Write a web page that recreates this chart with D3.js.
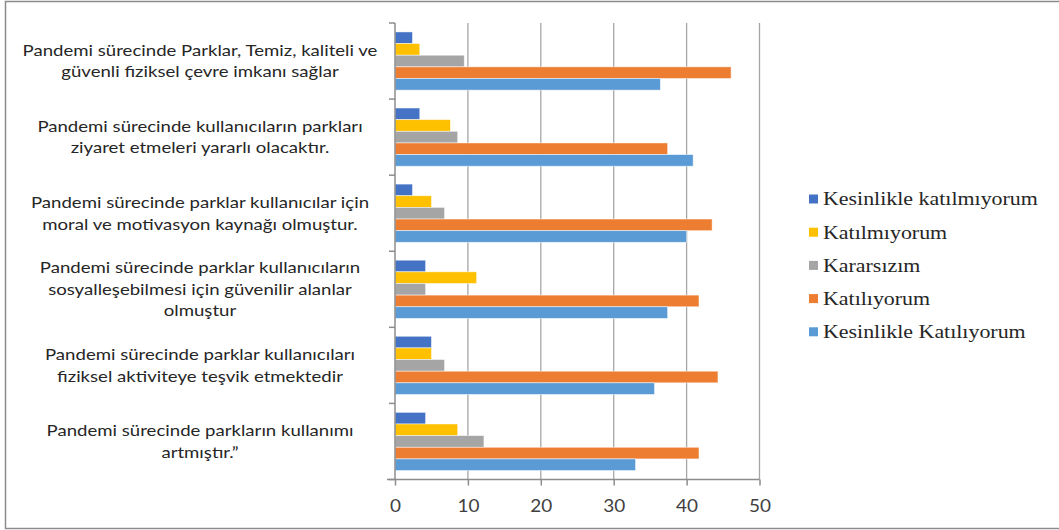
<!DOCTYPE html>
<html>
<head>
<meta charset="utf-8">
<script src="https://cdn.jsdelivr.net/npm/d3@7"></script>
<style>
  body { margin: 0; background: #fff; }
</style>
</head>
<body>
<div id="visContainer"></div>
<script>
// statements, top to bottom as shown
const categories = [
    ["Pandemi sürecinde Parklar, Temiz, kaliteli ve", "güvenli fiziksel çevre imkanı sağlar"],
    ["Pandemi sürecinde kullanıcıların parkları", "ziyaret etmeleri yararlı olacaktır."],
    ["Pandemi sürecinde parklar kullanıcılar için", "moral ve motivasyon kaynağı olmuştur."],
    ["Pandemi sürecinde parklar kullanıcıların", "sosyalleşebilmesi için güvenilir alanlar", "olmuştur"],
    ["Pandemi sürecinde parklar kullanıcıları", "fiziksel aktiviteye teşvik etmektedir"],
    ["Pandemi sürecinde parkların kullanımı", "artmıştır.\u201D"]
];

const seriesNames = ["Kesinlikle katılmıyorum", "Katılmıyorum", "Kararsızım", "Katılıyorum", "Kesinlikle Katılıyorum"];
const seriesColors = ["#4472C4", "#FFC000", "#A5A5A5", "#ED7D31", "#5B9BD5"];

// one array per series, same order as categories
const kesinlikleKatilmiyorum = [2.4, 3.4, 2.4, 4.2, 5.0, 4.2];
const katilmiyorum           = [3.4, 7.6, 5.0, 11.2, 5.0, 8.6];
const kararsizim             = [9.5, 8.6, 6.8, 4.2, 6.8, 12.2];
const katiliyorum            = [46.1, 37.4, 43.5, 41.7, 44.3, 41.7];
const kesinlikleKatiliyorum  = [36.4, 40.9, 40.0, 37.4, 35.6, 33.0];

const xTicks = [0, 10, 20, 30, 40, 50];

// stretch text horizontally so that the widest node reaches the target width
function stretchTo(sel, target) {
    let w = 0;
    sel.each(function () { w = Math.max(w, this.getComputedTextLength()); });
    return w > 0 ? target / w : 1;
}

function renderVisualisation() {
    const width = 1059;
    const height = 530;
    const series = [kesinlikleKatilmiyorum, katilmiyorum, kararsizim, katiliyorum, kesinlikleKatiliyorum];
    const top = 23, bottom = 479.5;

    const svg = d3.select('#visContainer').append("svg")
        .attr("width", width)
        .attr("height", height)
        .style("display", "block");

    // outer chart border
    svg.append("rect")
        .attr("x", 5.5).attr("y", 1.5)
        .attr("width", width + 10).attr("height", 527)
        .attr("fill", "none")
        .attr("stroke", "#8c8c8c")
        .attr("stroke-width", 1.5);

    const x = d3.scaleLinear().domain([0, 50]).range([395, 759.5]);
    const yCat = d3.scaleBand().domain(d3.range(categories.length)).range([top, bottom]);
    const y = d3.scaleBand().domain(d3.range(categories.length)).range([top, bottom])
        .paddingInner(0.235).paddingOuter(0.1175);
    const yInner = d3.scaleBand().domain(d3.range(seriesNames.length)).range([0, y.bandwidth()]);

    // gridlines
    svg.append("g")
        .selectAll("line")
        .data(xTicks.slice(1))
        .join("line")
        .attr("x1", d => x(d)).attr("x2", d => x(d))
        .attr("y1", top).attr("y2", bottom)
        .attr("stroke", "#a6a6a6")
        .attr("stroke-width", 1.3);

    // bars
    const group = svg.append("g")
        .selectAll("g")
        .data(categories)
        .join("g")
        .attr("transform", (d, i) => `translate(0,${y(i)})`);

    group.selectAll("rect")
        .data((d, i) => series.map((s, j) => ({ v: s[i], j })))
        .join("rect")
        .attr("x", x(0))
        .attr("y", d => yInner(d.j))
        .attr("width", d => x(d.v) - x(0))
        .attr("height", yInner.bandwidth())
        .attr("fill", d => seriesColors[d.j])
        .attr("stroke", "#ffffff")
        .attr("stroke-opacity", 0.6)
        .attr("stroke-width", 0.8);

    // vertical axis line with category ticks
    const axisColor = "#8c8c8c";
    svg.append("line")
        .attr("x1", x(0)).attr("x2", x(0))
        .attr("y1", top).attr("y2", bottom)
        .attr("stroke", axisColor).attr("stroke-width", 1.5);
    svg.append("g")
        .selectAll("line")
        .data(d3.range(categories.length + 1))
        .join("line")
        .attr("x1", x(0) - 6).attr("x2", x(0))
        .attr("y1", d => d < categories.length ? yCat(d) : bottom)
        .attr("y2", d => d < categories.length ? yCat(d) : bottom)
        .attr("stroke", axisColor).attr("stroke-width", 1.5);

    // bottom axis
    const xAxis = svg.append("g")
        .attr("transform", `translate(0,${bottom})`)
        .call(d3.axisBottom(x).tickValues(xTicks).tickSize(6).tickSizeOuter(0).tickPadding(14));
    xAxis.select(".domain").attr("stroke", axisColor).attr("stroke-width", 1.5)
        .attr("d", `M${x(0) - 8},0H${x(50)}`);
    xAxis.selectAll(".tick line").attr("stroke", axisColor).attr("stroke-width", 1.5);
    const tickText = xAxis.selectAll("text")
        .style("font-family", "Lato, 'Open Sans', sans-serif")
        .style("font-size", "18px")
        .attr("fill", "#404040");
    const tickK = stretchTo(tickText.filter(d => d === 10), 22);
    tickText.attr("transform", `scale(${tickK},1)`).attr("x", 0);

    // category labels
    const label = svg.append("g")
        .style("font-family", "Lato, 'Open Sans', sans-serif")
        .style("font-size", "15.5px")
        .attr("fill", "#262626")
        .attr("text-anchor", "middle")
        .selectAll("text")
        .data(categories)
        .join("text");

    label.selectAll("tspan")
        .data(d => d)
        .join("tspan")
        .attr("x", 0)
        .attr("dy", (d, i) => i === 0 ? 0 : 21.7)
        .text(d => d);

    const labelK = stretchTo(label.selectAll("tspan"), 355);
    label.attr("transform", (d, i) =>
        `translate(200,${yCat(i) + yCat.bandwidth() / 2 - (d.length - 1) * 10.85 + 5.5}) scale(${labelK},1)`);

    // legend
    const legend = svg.append("g")
        .selectAll("g")
        .data(seriesNames)
        .join("g")
        .attr("transform", (d, i) => `translate(809,${199 + i * 33.2})`);

    legend.append("rect")
        .attr("x", 0).attr("y", -4.5)
        .attr("width", 9).attr("height", 9)
        .attr("fill", (d, i) => seriesColors[i]);

    const legendText = legend.append("text")
        .attr("dy", "0.35em")
        .style("font-family", "'Liberation Serif', 'DejaVu Serif', serif")
        .style("font-size", "18px")
        .attr("fill", "#262626")
        .text(d => d);
    const legendK = stretchTo(legendText.filter((d, i) => i === 0), 215);
    legendText.attr("transform", `translate(14,0) scale(${legendK},1)`);
}

renderVisualisation();
</script>
</body>
</html>
